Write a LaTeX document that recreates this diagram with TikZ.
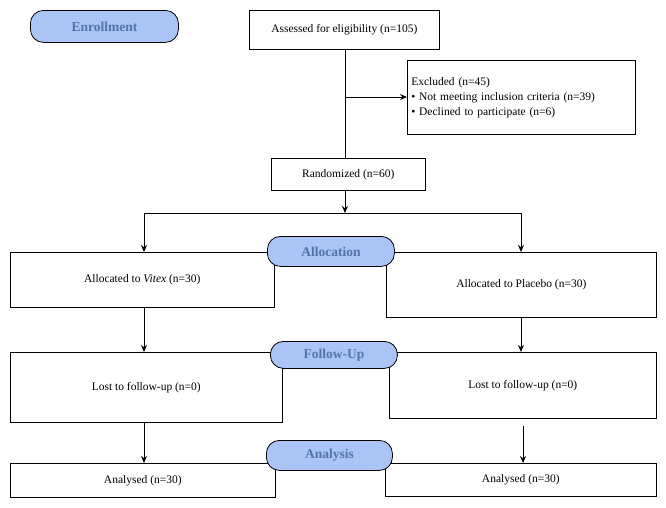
\documentclass[tikz,border=0pt]{standalone}
\usepackage{fontspec}
\setmainfont{Liberation Serif}
\usetikzlibrary{arrows.meta}
\definecolor{stagefill}{HTML}{A9C4F5}
\definecolor{stagetext}{HTML}{5575A8}
\tikzset{
	box/.style={draw, line width=.6pt, anchor=north west, inner sep=0pt, font=\fontsize{11.5}{13}\selectfont},
	stage/.style={draw, line width=.8pt, fill=stagefill, rounded corners=13pt, anchor=north west, inner sep=0pt,
		text=stagetext, font=\bfseries\fontsize{13.5}{15}\selectfont},
	flow/.style={line width=.8pt, -{Stealth[length=7pt,width=6pt]}}
}
\begin{document}
\begin{tikzpicture}[x=1pt,y=-1pt]
	\useasboundingbox (0,0) rectangle (666,507);
	% enrollment
	\node[stage, minimum width=148, minimum height=32] (enrol) at (30,10) {Enrollment};
	\node[box, minimum width=190, minimum height=39] (assess) at (249,10) {Assessed for eligibility (n=105)};
	\node[box, minimum width=228, minimum height=74, align=left, text width=220, inner xsep=4pt] (excl) at (407,60)
		{Excluded (n=45)\\[2pt]
		\textbullet\ Not meeting inclusion criteria (n=39)\\[2pt]
		\textbullet\ Declined to participate (n=6)};
	\node[box, minimum width=154, minimum height=32] (rand) at (271,158) {Randomized (n=60)};
	\coordinate (side) at (345,97);
	\draw[line width=.7pt] (assess.south -| side) -- (rand.north -| side);
	\draw[flow] (side) -- (side -| excl.west);
	\coordinate (split) at (345,213);
	\draw[flow] (rand.south -| split) -- (split);
	% boxes of both arms
	\node[box, minimum width=264, minimum height=55] (allocL) at (10,252) {Allocated to \textit{Vitex} (n=30)};
	\node[box, minimum width=270, minimum height=65] (allocR) at (386,252) {Allocated to Placebo (n=30)};
	\node[box, minimum width=272, minimum height=70] (lostL) at (10,352) {Lost to follow-up (n=0)};
	\node[box, minimum width=267, minimum height=66] (lostR) at (389,352) {Lost to follow-up (n=0)};
	\node[box, minimum width=265, minimum height=34] (anaL) at (10,463) {Analysed (n=30)};
	\node[box, minimum width=271, minimum height=33] (anaR) at (385,463) {Analysed (n=30)};
	% connectors
	\coordinate (armL) at (144,213);
	\coordinate (armR) at (521,213);
	\draw[line width=.7pt] (armL) -- (armR);
	\draw[flow] (armL) -- (armL |- allocL.north);
	\draw[flow] (armR) -- (armR |- allocR.north);
	\draw[flow] (armL |- allocL.south) -- (armL |- lostL.north);
	\draw[flow] (armR |- allocR.south) -- (armR |- lostR.north);
	\draw[flow] (armL |- lostL.south) -- (armL |- anaL.north);
	\draw[flow] ([xshift=2pt]armR |- lostR.south) ++(0,7) -- ([xshift=2pt]armR |- anaR.north);
	% stage labels
	\node[stage, minimum width=127, minimum height=30] (alloc) at (267,236) {Allocation};
	\node[stage, minimum width=127, minimum height=27] (follow) at (270,341) {Follow-Up};
	\node[stage, minimum width=126, minimum height=30] (ana) at (266,440) {Analysis};
\end{tikzpicture}
\end{document}
